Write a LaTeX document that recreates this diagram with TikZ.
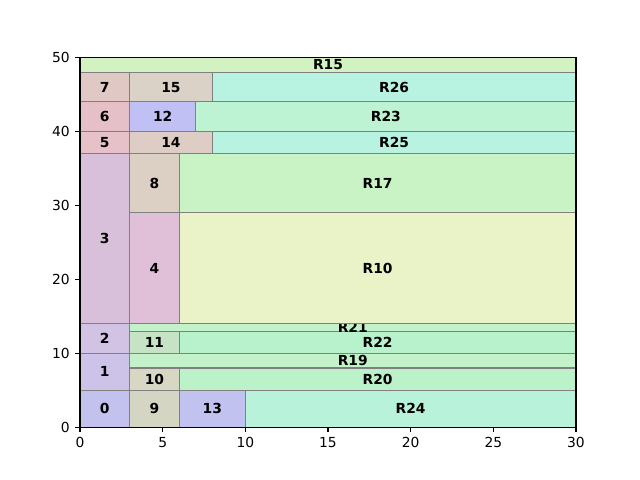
\documentclass[tikz,border=0pt]{standalone}
\usepackage{fontspec}
\setmainfont{DejaVu Sans}
\usepackage{xcolor}
\usetikzlibrary{positioning}

\definecolor{c0}{HTML}{C3C1EE}
\definecolor{c1}{HTML}{CDC2E7}
\definecolor{c2}{HTML}{D2C3E4}
\definecolor{c3}{HTML}{D8C0DA}
\definecolor{c4}{HTML}{E0C0D8}
\definecolor{c5}{HTML}{E6C2C8}
\definecolor{c6}{HTML}{E6C0C8}
\definecolor{c7}{HTML}{E0C8C4}
\definecolor{c8}{HTML}{DCD0C4}
\definecolor{c9}{HTML}{D5D5C3}
\definecolor{c10}{HTML}{D7D7C3}
\definecolor{c11}{HTML}{C7E3C6}
\definecolor{c12}{HTML}{C0C0F4}
\definecolor{c13}{HTML}{C2C2F1}
\definecolor{c14}{HTML}{DECDC5}
\definecolor{c15}{HTML}{DAD2C6}
\definecolor{r10}{HTML}{EAF2C8}
\definecolor{r15}{HTML}{D2F2C2}
\definecolor{r17}{HTML}{C9F2C5}
\definecolor{r19}{HTML}{C2F1CA}
\definecolor{r20}{HTML}{BBF2C9}
\definecolor{r21}{HTML}{C2F1CA}
\definecolor{r22}{HTML}{B8F2CC}
\definecolor{r23}{HTML}{BDF2D2}
\definecolor{r24}{HTML}{B8F2DA}
\definecolor{r25}{HTML}{B8F2E0}
\definecolor{r26}{HTML}{B8F2E0}

\begin{document}
\begin{tikzpicture}[x=0.165333in, y=0.07392in, font=\fontsize{10}{12}\selectfont,
  blk/.style={draw=black!50, line width=0.8pt},
  lbl/.style={font=\fontsize{10}{12}\selectfont\bfseries, inner sep=0pt},
  tick/.style={line width=0.8pt}]
  \useasboundingbox (-4.8387,-7.1429) rectangle (33.871,57.792);

  % left column
  \filldraw[blk, fill=c0] (0, 0) rectangle (3, 5);   \node[lbl] (b0) at (1.5, 2.5)  {0};
  \filldraw[blk, fill=c1] (0, 5) rectangle (3,10);   \node[lbl] (b1) at (1.5, 7.5)  {1};
  \filldraw[blk, fill=c2] (0,10) rectangle (3,14);   \node[lbl] (b2) at (1.5,12)    {2};
  \filldraw[blk, fill=c3] (0,14) rectangle (3,37);   \node[lbl] (b3) at (1.5,25.5)  {3};
  \filldraw[blk, fill=c5] (0,37) rectangle (3,40);   \node[lbl] (b5) at (1.5,38.5)  {5};
  \filldraw[blk, fill=c6] (0,40) rectangle (3,44);   \node[lbl] (b6) at (1.5,42)    {6};
  \filldraw[blk, fill=c7] (0,44) rectangle (3,48);   \node[lbl] (b7) at (1.5,46)    {7};

  % second column
  \filldraw[blk, fill=c9]  (3, 0) rectangle (6, 5);  \node[lbl] (b9)  at (4.5, 2.5) {9};
  \filldraw[blk, fill=c10] (3, 5) rectangle (6, 8);  \node[lbl] (b10) at (4.5, 6.5) {10};
  \filldraw[blk, fill=c11] (3,10) rectangle (6,13);  \node[lbl] (b11) at (4.5,11.5) {11};
  \filldraw[blk, fill=c4]  (3,14) rectangle (6,29);  \node[lbl] (b4)  at (4.5,21.5) {4};
  \filldraw[blk, fill=c8]  (3,29) rectangle (6,37);  \node[lbl] (b8)  at (4.5,33)   {8};
  \filldraw[blk, fill=c14] (3,37) rectangle (8,40);  \node[lbl] (b14) at (5.5,38.5) {14};
  \filldraw[blk, fill=c12] (3,40) rectangle (7,44);  \node[lbl] (b12) at (5,42)     {12};
  \filldraw[blk, fill=c15] (3,44) rectangle (8,48);  \node[lbl] (b15) at (5.5,46)   {15};
  \filldraw[blk, fill=c13] (6, 0) rectangle (10,5);  \node[lbl] (b13) at (8, 2.5)   {13};

  % remaining regions
  \filldraw[blk, fill=r24] (10, 0) rectangle (30, 5); \node[lbl] (R24) at (20, 2.5)  {R24};
  \filldraw[blk, fill=r20] ( 6, 5) rectangle (30, 8); \node[lbl] (R20) at (18, 6.5)  {R20};
  \filldraw[blk, fill=r19] ( 3, 8) rectangle (30,10); \node[lbl] (R19) at (16.5, 9)  {R19};
  \filldraw[blk, fill=r22] ( 6,10) rectangle (30,13); \node[lbl] (R22) at (18,11.5)  {R22};
  \filldraw[blk, fill=r21] ( 3,13) rectangle (30,14); \node[lbl] (R21) at (16.5,13.5){R21};
  \filldraw[blk, fill=r10] ( 6,14) rectangle (30,29); \node[lbl] (R10) at (18,21.5)  {R10};
  \filldraw[blk, fill=r17] ( 6,29) rectangle (30,37); \node[lbl] (R17) at (18,33)    {R17};
  \filldraw[blk, fill=r25] ( 8,37) rectangle (30,40); \node[lbl] (R25) at (19,38.5)  {R25};
  \filldraw[blk, fill=r23] ( 7,40) rectangle (30,44); \node[lbl] (R23) at (18.5,42)  {R23};
  \filldraw[blk, fill=r26] ( 8,44) rectangle (30,48); \node[lbl] (R26) at (19,46)    {R26};
  \filldraw[blk, fill=r15] ( 0,48) rectangle (30,50); \node[lbl] (R15) at (15,49)    {R15};

  % axes
  \draw[tick] (0,0) rectangle (30,50);
  \foreach \x in {0,5,...,30}
    \draw[tick] (\x,0) -- ++(0,-3.5pt)
      node[anchor=north, inner sep=0pt, yshift=-3.5pt] (xt\x) {\x};
  \foreach \y in {0,10,...,50}
    \draw[tick] (0,\y) -- ++(-3.5pt,0)
      node[anchor=east, inner sep=0pt, xshift=-3.5pt] (yt\y) {\y};
\end{tikzpicture}
\end{document}
